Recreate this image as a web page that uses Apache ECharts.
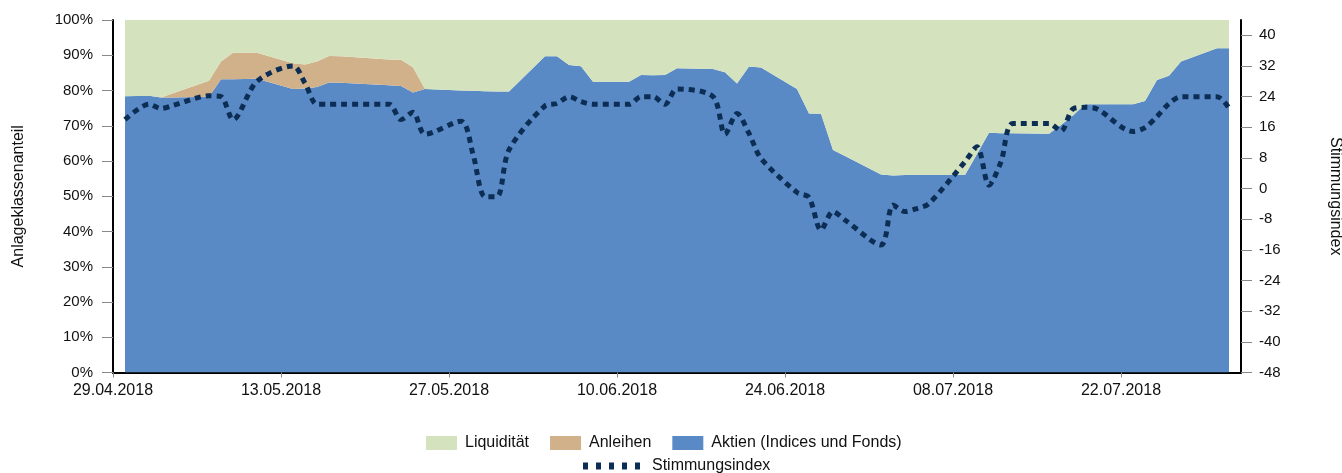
<!DOCTYPE html>
<html><head><meta charset="utf-8">
<script src="https://cdn.jsdelivr.net/npm/echarts@6/dist/echarts.min.js"></script>
<style>html,body{margin:0;padding:0;background:#fff}#c{width:1342px;height:473px}</style>
</head><body><div id="c"></div>
<script>
const dates = ['30.04.2018','02.05.2018','03.05.2018','04.05.2018','07.05.2018','08.05.2018','09.05.2018','11.05.2018',
 '14.05.2018','15.05.2018','16.05.2018','17.05.2018','18.05.2018','22.05.2018','23.05.2018','24.05.2018','25.05.2018',
 '28.05.2018','29.05.2018','30.05.2018','31.05.2018','01.06.2018','04.06.2018','05.06.2018','06.06.2018','07.06.2018','08.06.2018',
 '11.06.2018','12.06.2018','13.06.2018','14.06.2018','15.06.2018','18.06.2018','19.06.2018','20.06.2018','21.06.2018','22.06.2018',
 '25.06.2018','26.06.2018','27.06.2018','28.06.2018','29.06.2018','02.07.2018','03.07.2018','04.07.2018','05.07.2018','06.07.2018',
 '09.07.2018','10.07.2018','11.07.2018','12.07.2018','13.07.2018','16.07.2018','17.07.2018','18.07.2018','19.07.2018','20.07.2018',
 '23.07.2018','24.07.2018','25.07.2018','26.07.2018','27.07.2018','30.07.2018','31.07.2018'];
const aktien = [78.4,78.5,78.0,78.0,78.2,83.2,83.2,83.3,
 80.4,80.6,81.0,82.3,82.2,81.5,81.3,79.4,80.4,
 80.0,79.9,79.8,79.7,79.7,89.7,89.7,87.2,86.9,82.5,
 82.5,84.4,84.3,84.4,86.3,86.1,85.2,82.0,86.8,86.5,
 80.4,73.5,73.4,63.1,61.4,56.2,55.9,56.0,56.0,56.0,
 56.0,62.0,68.0,67.9,67.9,67.7,70.2,72.9,76.1,76.1,
 76.1,77.0,83.0,84.2,88.2,92.0,92.0];
const anleihen = [0,0,0,1.2,4.6,5.0,7.5,7.4,
 7.3,6.8,7.2,7.5,7.5,7.3,7.4,7.2,0,
 0,0,0,0,0,0,0,0,0,0,
 0,0,0,0,0,0,0,0,0,0,
 0,0,0,0,0,0,0,0,0,0,
 0,0,0,0,0,0,0,0,0,0,
 0,0,0,0,0,0,0];
const liquiditaet = [21.6,21.5,22.0,20.8,17.2,11.8,9.3,9.3,
 12.3,12.6,11.8,10.2,10.3,11.2,11.3,13.4,19.6,
 20.0,20.1,20.2,20.3,20.3,10.3,10.3,12.8,13.1,17.5,
 17.5,15.6,15.7,15.6,13.7,13.9,14.8,18.0,13.2,13.5,
 19.6,26.5,26.6,36.9,38.6,43.8,44.1,44.0,44.0,44.0,
 44.0,38.0,32.0,32.1,32.1,32.3,29.8,27.1,23.9,23.9,
 23.9,23.0,17.0,15.8,11.8,8.0,8.0];
const stimmung = [18,22,20.9,21.7,24.2,24.0,18.0,28.0,
 32.0,27.5,22,22,22,22,18,19.9,14.2,
 17.6,9,-2.1,-2.1,10.1,21.6,22.2,24.0,22.7,22.0,
 22.0,24.0,24.0,22.0,26.0,24.0,14.2,19.6,14.4,7.9,
 -1.0,-2.3,-10.8,-6.0,-8.2,-14.7,-4.3,-6.0,-5.2,-3.9,
 7.0,10.9,0.9,7.0,17.0,17.0,15.0,20.8,21.2,20.8,
 14.9,15.9,18.8,22.2,24.0,24.0,21.0];
const xTickLabels = ['29.04.2018','13.05.2018','27.05.2018','10.06.2018','24.06.2018','08.07.2018','22.07.2018'];
const xRange = ['29.04.2018','01.08.2018'];
const leftTicks = [0,10,20,30,40,50,60,70,80,90,100];
const rightTicks = [-48,-40,-32,-24,-16,-8,0,8,16,24,32,40];

function ts(s){ const p = s.split('.').map(Number); return Date.UTC(p[2],p[1]-1,p[0]); }
const T0 = ts(xRange[0]);
const dayOf = s => Math.round((ts(s) - T0) / 86400000);
const xTickDays = xTickLabels.map(dayOf);
const xs = dates.map(ts);
const pair = arr => arr.map((v,i)=>[xs[i], v]);

const FONT = 'Arial, "Liberation Sans", sans-serif';
const C_LIQ = '#D4E3BE', C_ANL = '#D1B18A', C_AKT = '#5A8AC6', C_IDX = '#0C2E55';

const chart = echarts.init(document.getElementById('c'), null, {renderer:'canvas'});
function area(name, data, color){
  return {name, type:'line', stack:'anteil', xAxisIndex:0, data:pair(data), symbol:'none', smooth:false,
    lineStyle:{width:0, color}, itemStyle:{color}, areaStyle:{color, opacity:1}, z:2, silent:true};
}
chart.setOption({
  animation:false,
  textStyle:{fontFamily:FONT},
  grid:{left:113, right:101, top:20, bottom:100.5, containLabel:false, outerBoundsMode:'none'},
  legend:[
    {data:['Liquidität','Anleihen','Aktien (Indices und Fonds)'], icon:'rect', left:426, top:435, padding:0,
     itemWidth:31, itemHeight:14, itemGap:21,
     textStyle:{fontSize:16, color:'#111', fontFamily:FONT, padding:[0,0,0,3]}, selectedMode:false},
    {data:[{name:'Stimmungsindex', icon:'path://M0,0h5v7h-5z M13,0h5v7h-5z M26,0h5v7h-5z M39,0h5v7h-5z M52,0h5v7h-5z'}],
     left:583, top:458, padding:0, itemWidth:57, itemHeight:7,
     textStyle:{fontSize:16, color:'#111', fontFamily:FONT, padding:[0,0,0,7]}, selectedMode:false}
  ],
  xAxis:[
    {type:'time', min:ts(xRange[0]), max:ts(xRange[1]), show:false},
    {type:'value', min:0, max:dayOf(xRange[1]), interval:14, position:'bottom',
     axisLine:{show:true, onZero:false, lineStyle:{color:'#000', width:2}},
     axisTick:{show:true, length:5, lineStyle:{color:'#888'}, customValues:xTickDays},
     axisLabel:{fontSize:16, color:'#111', margin:10, customValues:xTickDays,
       formatter:v=>{ const i = xTickDays.indexOf(v); return i>=0 ? xTickLabels[i] : ''; }},
     splitLine:{show:false}}
  ],
  yAxis:[
    {type:'value', min:0, max:100, interval:10, position:'left',
     name:'Anlageklassenanteil', nameLocation:'middle', nameGap:86, nameRotate:90,
     nameTextStyle:{fontSize:16, color:'#111', fontFamily:FONT},
     axisLine:{show:true, lineStyle:{color:'#000', width:2}},
     axisTick:{show:true, length:11, lineStyle:{color:'#888'}, customValues:leftTicks},
     axisLabel:{fontSize:15, color:'#111', margin:20, formatter:'{value}%', customValues:leftTicks},
     splitLine:{show:false}},
    {type:'value', min:-48, max:44, interval:8, position:'right',
     name:'Stimmungsindex', nameLocation:'middle', nameGap:86, nameRotate:-90,
     nameTextStyle:{fontSize:16, color:'#111', fontFamily:FONT},
     axisLine:{show:true, lineStyle:{color:'#000', width:2}},
     axisTick:{show:true, length:11, lineStyle:{color:'#888'}, customValues:rightTicks},
     axisLabel:{fontSize:15, color:'#111', margin:18, customValues:rightTicks},
     splitLine:{show:false}}
  ],
  series:[
    area('Aktien (Indices und Fonds)', aktien, C_AKT),
    area('Anleihen', anleihen, C_ANL),
    area('Liquidität', liquiditaet, C_LIQ),
    {name:'Stimmungsindex', type:'line', xAxisIndex:0, yAxisIndex:1, data:pair(stimmung), symbol:'none', smooth:0.3,
     lineStyle:{color:C_IDX, width:5, type:[6,5], cap:'butt'}, itemStyle:{color:C_IDX}, z:5, silent:true}
  ]
});
</script></body></html>
